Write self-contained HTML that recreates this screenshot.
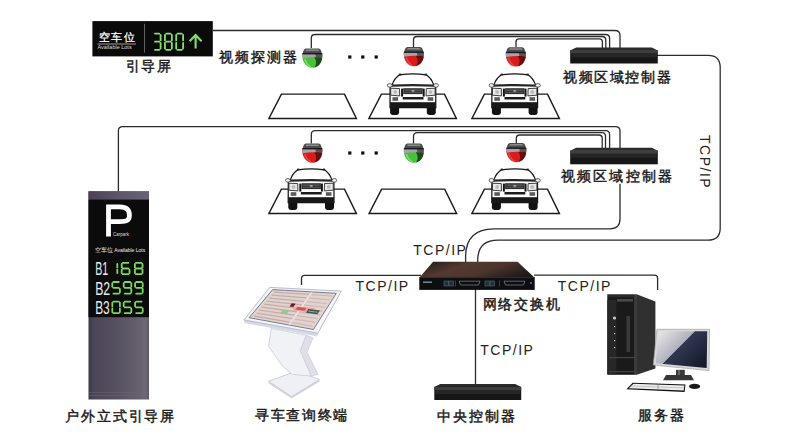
<!DOCTYPE html><html><head><meta charset="utf-8"><style>
html,body{margin:0;padding:0;background:#fff;width:800px;height:440px;overflow:hidden;position:relative;font-family:"Liberation Sans",sans-serif;color:#1a1a1a}
.t{position:absolute;white-space:nowrap;line-height:1;-webkit-text-stroke:0.45px #1a1a1a}
.tcp{position:absolute;white-space:nowrap;line-height:1;font-size:14px;letter-spacing:1.5px;color:#222}
.w{position:absolute;white-space:nowrap;line-height:1;color:#fff}
</style></head><body>
<svg width="800" height="440" viewBox="0 0 800 440" style="position:absolute;left:0;top:0"><defs>
<g id="car">
  <rect x="-22.8" y="26" width="9" height="14.9" rx="2.4" fill="#121212"/>
  <rect x="13.9" y="26" width="9" height="14.9" rx="2.4" fill="#121212"/>
  <path d="M-13.4,0.8 Q0,-1 13.4,0.8 Q18.6,4.5 20.6,10.4 L22.8,12.8 L22.9,33.6 L-22.9,33.6 L-22.8,12.8 L-20.6,10.4 Q-18.6,4.5 -13.4,0.8 Z" fill="#fdfdfd" stroke="#151515" stroke-width="1.25"/>
  <rect x="-14" y="-0.4" width="2.2" height="1.8" fill="#222"/><rect x="11.8" y="-0.4" width="2.2" height="1.8" fill="#222"/>
  <path d="M-20.6,10.6 Q0,9.4 20.6,10.6 L22.4,12.8 Q0,11.6 -22.4,12.8 Z" fill="#262626"/>
  <ellipse cx="-23.2" cy="11.4" rx="2.4" ry="1.8" fill="#f6f6f6" stroke="#3a3a3a" stroke-width="0.8"/>
  <ellipse cx="23.2" cy="11.4" rx="2.4" ry="1.8" fill="#f6f6f6" stroke="#3a3a3a" stroke-width="0.8"/>
  <path d="M-22.2,14.2 L-13.4,14.6 L-13.2,21.9 L-22.2,21.2 Z" fill="#e9e9e9" stroke="#2a2a2a" stroke-width="0.9"/>
  <path d="M22.2,14.2 L13.4,14.6 L13.2,21.9 L22.2,21.2 Z" fill="#e9e9e9" stroke="#2a2a2a" stroke-width="0.9"/>
  <circle cx="-17.6" cy="18" r="2" fill="#bbb"/>
  <circle cx="17.6" cy="18" r="2" fill="#bbb"/>
  <rect x="-11.8" y="14.6" width="2" height="8" fill="#151515"/>
  <rect x="9.8" y="14.6" width="2" height="8" fill="#151515"/>
  <rect x="-9.6" y="14.2" width="19.4" height="5.9" fill="#2e2e2e"/>
  <rect x="-8.4" y="15.6" width="17" height="1" fill="#6a6a6a"/>
  <rect x="-8.4" y="17.8" width="17" height="1" fill="#5a5a5a"/>
  <ellipse cx="0.1" cy="16.9" rx="1.6" ry="0.9" fill="#aaa"/>
  <rect x="-10.2" y="23" width="20.8" height="2.5" fill="#1c1c1c"/>
  <rect x="-22.8" y="28.2" width="45.6" height="5.6" fill="#181818"/>
  <rect x="-20.4" y="23.2" width="5.6" height="3.6" fill="#5a5a5a"/>
  <rect x="14.8" y="23.2" width="5.6" height="3.6" fill="#5a5a5a"/>
</g>
<linearGradient id="pillarG" x1="0" x2="1" y1="0" y2="0">
 <stop offset="0" stop-color="#3e3846"/><stop offset="0.08" stop-color="#4c4554"/><stop offset="0.45" stop-color="#555060"/><stop offset="0.85" stop-color="#67606e"/><stop offset="0.95" stop-color="#6e6874"/><stop offset="1" stop-color="#5c5662"/>
</linearGradient>
<linearGradient id="pillarTop" x1="0" x2="1" y1="0" y2="0">
 <stop offset="0" stop-color="#4a4254"/><stop offset="0.5" stop-color="#5e5568"/><stop offset="1" stop-color="#6a6278"/>
</linearGradient>
<linearGradient id="switchTop" x1="0" x2="1" y1="0.3" y2="0.7">
 <stop offset="0" stop-color="#2a201e"/><stop offset="0.3" stop-color="#54392f"/><stop offset="0.6" stop-color="#4c342c"/><stop offset="1" stop-color="#1c1615"/>
</linearGradient>
<linearGradient id="monG" x1="0.02" x2="0.98" y1="0.12" y2="0.8">
 <stop offset="0" stop-color="#e4e4e8"/><stop offset="0.45" stop-color="#b0b2bc"/><stop offset="0.465" stop-color="#303852"/><stop offset="1" stop-color="#161b2e"/>
</linearGradient>
</defs><path d="M213,30.5 H615 Q620,30.5 620,35.5 V48" fill="none" stroke="#2c2c2c" stroke-width="1.3"/><path d="M311.3,48 V38.2 Q311.3,34.5 315,34.5 H605.6 Q609.6,34.5 609.6,38.5 V48" fill="none" stroke="#2c2c2c" stroke-width="1.3"/><path d="M413.5,47 V40 Q413.5,36.5 417,36.5 H602 Q605.8,36.5 605.8,40.3 V48" fill="none" stroke="#2c2c2c" stroke-width="1.3"/><path d="M516,47 V42 Q516,38.9 519,38.9 H599.4 Q602.4,38.9 602.4,42 V48" fill="none" stroke="#2c2c2c" stroke-width="1.3"/><path d="M118.4,191.5 V130.8 Q118.4,126.6 122.6,126.6 H615.5 Q620,126.6 620,131 V148" fill="none" stroke="#2c2c2c" stroke-width="1.3"/><path d="M620,183.8 V219 Q620,228.8 610,228.8 H494 Q465.6,228.8 465.6,257 V262" fill="none" stroke="#2c2c2c" stroke-width="1.3"/><path d="M311.3,143.5 V134.5 Q311.3,130.6 315.2,130.6 H605.6 Q609.6,130.6 609.6,134.6 V148" fill="none" stroke="#2c2c2c" stroke-width="1.3"/><path d="M413.5,143.5 V136.5 Q413.5,132.6 417.4,132.6 H601.8 Q605.5,132.6 605.5,136.3 V148" fill="none" stroke="#2c2c2c" stroke-width="1.3"/><path d="M516.3,143 V138.5 Q516.3,135 519.8,135 H599 Q602.2,135 602.2,138.2 V148" fill="none" stroke="#2c2c2c" stroke-width="1.3"/><path d="M656,55.3 H708 Q720.2,55.3 720.2,67.5 V228 Q720.2,240.2 708,240.2 H498 Q477.7,240.2 477.7,260.5 V262" fill="none" stroke="#2c2c2c" stroke-width="1.3"/><path d="M301.5,285 V278.5 Q301.5,275.3 304.7,275.3 H421" fill="none" stroke="#2c2c2c" stroke-width="1.3"/><path d="M534,275.2 H654.5 Q657.6,275.2 657.6,278.3 V290" fill="none" stroke="#2c2c2c" stroke-width="1.3"/><path d="M475.5,289 V384" fill="none" stroke="#2c2c2c" stroke-width="1.3"/><path d="M281.40,94.1 L344.50,94.1 L356.40,118.4 L268.90,118.4 Z" fill="none" stroke="#1a1a1a" stroke-width="1.45" stroke-linejoin="miter"/><path d="M381.40,94.1 L444.50,94.1 L456.40,118.4 L368.90,118.4 Z" fill="none" stroke="#1a1a1a" stroke-width="1.45" stroke-linejoin="miter"/><path d="M484.40,94.1 L547.50,94.1 L559.40,118.4 L471.90,118.4 Z" fill="none" stroke="#1a1a1a" stroke-width="1.45" stroke-linejoin="miter"/><path d="M281.40,189.1 L344.50,189.1 L356.40,213.4 L268.90,213.4 Z" fill="none" stroke="#1a1a1a" stroke-width="1.45" stroke-linejoin="miter"/><path d="M381.60,189.1 L444.70,189.1 L456.60,213.4 L369.10,213.4 Z" fill="none" stroke="#1a1a1a" stroke-width="1.45" stroke-linejoin="miter"/><path d="M484.40,189.1 L547.50,189.1 L559.40,213.4 L471.90,213.4 Z" fill="none" stroke="#1a1a1a" stroke-width="1.45" stroke-linejoin="miter"/><use href="#car" transform="translate(412.9,74)"/><use href="#car" transform="translate(514.7,74)"/><use href="#car" transform="translate(311.1,169)"/><use href="#car" transform="translate(514.7,169)"/><g transform="translate(312.3,48.5)">
  <path d="M-6.6,0 L6.6,0 Q8.6,0.6 9.2,3.2 L9.6,5.6 L-9.6,5.6 L-9.2,3.2 Q-8.6,0.6 -6.6,0 Z" fill="#4c4c4c"/>
  <path d="M-6,1 L6,1 L6.8,2.4 L-6.8,2.4 Z" fill="#8c8c8c"/>
  <path d="M-9.9,5 C-10.9,12 -6.8,19.2 0,19.2 C6.8,19.2 10.9,12 9.9,5 Z" fill="#45c23a"/>
  <path d="M-9.9,5 L9.9,5 C10.1,7 10,8.6 9.7,9.6 C4,8.2 -3,8.4 -9.6,9.8 C-9.9,8.2 -10,6.6 -9.9,5 Z" fill="#a8a0aa"/>
  <path d="M3,5 L9.9,5 C10.1,7 10,8.6 9.7,9.6 C7,9 5,8.8 3.5,8.8 Z" fill="#555"/>
  <path d="M-7.5,10.5 C-6.5,14 -4.5,17 -1.5,18.6" stroke="#8fe57f" stroke-width="1.6" fill="none" opacity="0.75"/>
  <path d="M2,8.8 C6,8.6 9.2,9 9.9,9.8 C9.4,14 6.5,18.4 2.2,19 C4.6,15.6 4.2,12 2,8.8 Z" fill="#1c4a18"/>
  <rect x="-9.9" y="4.5" width="19.8" height="1.4" fill="#1a1a1a"/>
</g><g transform="translate(413.8,47)">
  <path d="M-6.6,0 L6.6,0 Q8.6,0.6 9.2,3.2 L9.6,5.6 L-9.6,5.6 L-9.2,3.2 Q-8.6,0.6 -6.6,0 Z" fill="#4c4c4c"/>
  <path d="M-6,1 L6,1 L6.8,2.4 L-6.8,2.4 Z" fill="#8c8c8c"/>
  <path d="M-9.9,5 C-10.9,12 -6.8,19.2 0,19.2 C6.8,19.2 10.9,12 9.9,5 Z" fill="#d81c1c"/>
  <path d="M-9.9,5 L9.9,5 C10.1,7 10,8.6 9.7,9.6 C4,8.2 -3,8.4 -9.6,9.8 C-9.9,8.2 -10,6.6 -9.9,5 Z" fill="#a8a0aa"/>
  <path d="M3,5 L9.9,5 C10.1,7 10,8.6 9.7,9.6 C7,9 5,8.8 3.5,8.8 Z" fill="#555"/>
  <path d="M-7.5,10.5 C-6.5,14 -4.5,17 -1.5,18.6" stroke="#f25050" stroke-width="1.6" fill="none" opacity="0.75"/>
  <path d="M2,8.8 C6,8.6 9.2,9 9.9,9.8 C9.4,14 6.5,18.4 2.2,19 C4.6,15.6 4.2,12 2,8.8 Z" fill="#6a0c0c"/>
  <rect x="-9.9" y="4.5" width="19.8" height="1.4" fill="#1a1a1a"/>
</g><g transform="translate(515.8,47.3)">
  <path d="M-6.6,0 L6.6,0 Q8.6,0.6 9.2,3.2 L9.6,5.6 L-9.6,5.6 L-9.2,3.2 Q-8.6,0.6 -6.6,0 Z" fill="#4c4c4c"/>
  <path d="M-6,1 L6,1 L6.8,2.4 L-6.8,2.4 Z" fill="#8c8c8c"/>
  <path d="M-9.9,5 C-10.9,12 -6.8,19.2 0,19.2 C6.8,19.2 10.9,12 9.9,5 Z" fill="#d81c1c"/>
  <path d="M-9.9,5 L9.9,5 C10.1,7 10,8.6 9.7,9.6 C4,8.2 -3,8.4 -9.6,9.8 C-9.9,8.2 -10,6.6 -9.9,5 Z" fill="#a8a0aa"/>
  <path d="M3,5 L9.9,5 C10.1,7 10,8.6 9.7,9.6 C7,9 5,8.8 3.5,8.8 Z" fill="#555"/>
  <path d="M-7.5,10.5 C-6.5,14 -4.5,17 -1.5,18.6" stroke="#f25050" stroke-width="1.6" fill="none" opacity="0.75"/>
  <path d="M2,8.8 C6,8.6 9.2,9 9.9,9.8 C9.4,14 6.5,18.4 2.2,19 C4.6,15.6 4.2,12 2,8.8 Z" fill="#6a0c0c"/>
  <rect x="-9.9" y="4.5" width="19.8" height="1.4" fill="#1a1a1a"/>
</g><g transform="translate(312.3,143.5)">
  <path d="M-6.6,0 L6.6,0 Q8.6,0.6 9.2,3.2 L9.6,5.6 L-9.6,5.6 L-9.2,3.2 Q-8.6,0.6 -6.6,0 Z" fill="#4c4c4c"/>
  <path d="M-6,1 L6,1 L6.8,2.4 L-6.8,2.4 Z" fill="#8c8c8c"/>
  <path d="M-9.9,5 C-10.9,12 -6.8,19.2 0,19.2 C6.8,19.2 10.9,12 9.9,5 Z" fill="#d81c1c"/>
  <path d="M-9.9,5 L9.9,5 C10.1,7 10,8.6 9.7,9.6 C4,8.2 -3,8.4 -9.6,9.8 C-9.9,8.2 -10,6.6 -9.9,5 Z" fill="#a8a0aa"/>
  <path d="M3,5 L9.9,5 C10.1,7 10,8.6 9.7,9.6 C7,9 5,8.8 3.5,8.8 Z" fill="#555"/>
  <path d="M-7.5,10.5 C-6.5,14 -4.5,17 -1.5,18.6" stroke="#f25050" stroke-width="1.6" fill="none" opacity="0.75"/>
  <path d="M2,8.8 C6,8.6 9.2,9 9.9,9.8 C9.4,14 6.5,18.4 2.2,19 C4.6,15.6 4.2,12 2,8.8 Z" fill="#6a0c0c"/>
  <rect x="-9.9" y="4.5" width="19.8" height="1.4" fill="#1a1a1a"/>
</g><g transform="translate(413.8,143.5)">
  <path d="M-6.6,0 L6.6,0 Q8.6,0.6 9.2,3.2 L9.6,5.6 L-9.6,5.6 L-9.2,3.2 Q-8.6,0.6 -6.6,0 Z" fill="#4c4c4c"/>
  <path d="M-6,1 L6,1 L6.8,2.4 L-6.8,2.4 Z" fill="#8c8c8c"/>
  <path d="M-9.9,5 C-10.9,12 -6.8,19.2 0,19.2 C6.8,19.2 10.9,12 9.9,5 Z" fill="#45c23a"/>
  <path d="M-9.9,5 L9.9,5 C10.1,7 10,8.6 9.7,9.6 C4,8.2 -3,8.4 -9.6,9.8 C-9.9,8.2 -10,6.6 -9.9,5 Z" fill="#a8a0aa"/>
  <path d="M3,5 L9.9,5 C10.1,7 10,8.6 9.7,9.6 C7,9 5,8.8 3.5,8.8 Z" fill="#555"/>
  <path d="M-7.5,10.5 C-6.5,14 -4.5,17 -1.5,18.6" stroke="#8fe57f" stroke-width="1.6" fill="none" opacity="0.75"/>
  <path d="M2,8.8 C6,8.6 9.2,9 9.9,9.8 C9.4,14 6.5,18.4 2.2,19 C4.6,15.6 4.2,12 2,8.8 Z" fill="#1c4a18"/>
  <rect x="-9.9" y="4.5" width="19.8" height="1.4" fill="#1a1a1a"/>
</g><g transform="translate(516.3,143)">
  <path d="M-6.6,0 L6.6,0 Q8.6,0.6 9.2,3.2 L9.6,5.6 L-9.6,5.6 L-9.2,3.2 Q-8.6,0.6 -6.6,0 Z" fill="#4c4c4c"/>
  <path d="M-6,1 L6,1 L6.8,2.4 L-6.8,2.4 Z" fill="#8c8c8c"/>
  <path d="M-9.9,5 C-10.9,12 -6.8,19.2 0,19.2 C6.8,19.2 10.9,12 9.9,5 Z" fill="#d81c1c"/>
  <path d="M-9.9,5 L9.9,5 C10.1,7 10,8.6 9.7,9.6 C4,8.2 -3,8.4 -9.6,9.8 C-9.9,8.2 -10,6.6 -9.9,5 Z" fill="#a8a0aa"/>
  <path d="M3,5 L9.9,5 C10.1,7 10,8.6 9.7,9.6 C7,9 5,8.8 3.5,8.8 Z" fill="#555"/>
  <path d="M-7.5,10.5 C-6.5,14 -4.5,17 -1.5,18.6" stroke="#f25050" stroke-width="1.6" fill="none" opacity="0.75"/>
  <path d="M2,8.8 C6,8.6 9.2,9 9.9,9.8 C9.4,14 6.5,18.4 2.2,19 C4.6,15.6 4.2,12 2,8.8 Z" fill="#6a0c0c"/>
  <rect x="-9.9" y="4.5" width="19.8" height="1.4" fill="#1a1a1a"/>
</g><rect x="348.2" y="55.4" width="3.2" height="3.2" fill="#111"/><rect x="361.2" y="55.4" width="3.2" height="3.2" fill="#111"/><rect x="374.59999999999997" y="55.4" width="3.2" height="3.2" fill="#111"/><rect x="348.2" y="151.4" width="3.2" height="3.2" fill="#111"/><rect x="361.2" y="151.4" width="3.2" height="3.2" fill="#111"/><rect x="374.59999999999997" y="151.4" width="3.2" height="3.2" fill="#111"/><g>
  <path d="M576.2,47.5 L651.8,47.5 L657.8,50.5 L570.2,50.5 Z" fill="#2b2b2b"/>
  <rect x="570.2" y="50.3" width="87.59999999999991" height="13.2" fill="#161616"/>
  <rect x="570.2" y="50.5" width="87.59999999999991" height="3" fill="#3e3e3e"/>
  <rect x="571.2" y="53.5" width="85.59999999999991" height="4" fill="#262626"/>
</g><g>
  <path d="M576.2,147.8 L651.8,147.8 L657.8,150.8 L570.2,150.8 Z" fill="#2b2b2b"/>
  <rect x="570.2" y="150.60000000000002" width="87.59999999999991" height="13.7" fill="#161616"/>
  <rect x="570.2" y="150.8" width="87.59999999999991" height="3" fill="#3e3e3e"/>
  <rect x="571.2" y="153.8" width="85.59999999999991" height="4" fill="#262626"/>
</g><rect x="92.4" y="21.1" width="120.4" height="35.3" fill="#0a0a0a"/><line x1="144.5" y1="23.8" x2="144.5" y2="52.6" stroke="#777" stroke-width="0.8"/><line x1="97.5" y1="44" x2="136" y2="44" stroke="#ddd" stroke-width="0.7"/><path d="M155.00,33.60 L159.30,33.60 M160.60,34.90 L160.60,40.40 M160.60,43.00 L160.60,48.50 M155.00,49.80 L159.30,49.80 M155.00,41.70 L159.30,41.70 M166.25,33.60 L170.55,33.60 M171.85,34.90 L171.85,40.40 M171.85,43.00 L171.85,48.50 M166.25,49.80 L170.55,49.80 M164.95,43.00 L164.95,48.50 M164.95,34.90 L164.95,40.40 M166.25,41.70 L170.55,41.70 M177.50,33.60 L181.80,33.60 M183.10,34.90 L183.10,40.40 M183.10,43.00 L183.10,48.50 M177.50,49.80 L181.80,49.80 M176.20,43.00 L176.20,48.50 M176.20,34.90 L176.20,40.40 " stroke="#86e070" stroke-width="1.8" stroke-linecap="round" fill="none"/><path d="M195.6,35 V48.6 M189.6,41.2 L195.6,35 L201.6,41.2" fill="none" stroke="#7ee06a" stroke-width="2.1"/><rect x="88.5" y="191.3" width="60.5" height="208.2" fill="url(#pillarG)"/><rect x="88.5" y="191.3" width="60.5" height="8.3" fill="url(#pillarTop)"/><rect x="88.5" y="199.6" width="60.5" height="117.6" fill="#0b0b0b"/><rect x="89" y="392" width="59.5" height="0.8" fill="#6e6878" opacity="0.6"/><rect x="89" y="395" width="59.5" height="0.8" fill="#6e6878" opacity="0.6"/><path d="M108.5,236.4 V206.9 H119.8 C127.2,206.9 129.4,210.3 129.4,215.3 C129.4,220.3 127.2,221.6 119.8,221.6 H108.5" fill="none" stroke="#fff" stroke-width="4.8"/><path d="M117.30,263.90 L117.30,267.40 M117.30,269.60 L117.30,273.10 M122.80,262.80 L128.40,262.80 M129.50,269.60 L129.50,273.10 M122.80,274.20 L128.40,274.20 M121.70,269.60 L121.70,273.10 M121.70,263.90 L121.70,267.40 M122.80,268.50 L128.40,268.50 M136.00,262.80 L141.40,262.80 M142.50,263.90 L142.50,267.40 M142.50,269.60 L142.50,273.10 M136.00,274.20 L141.40,274.20 M134.90,269.60 L134.90,273.10 M134.90,263.90 L134.90,267.40 M136.00,268.50 L141.40,268.50 " stroke="#7ad862" stroke-width="1.8" stroke-linecap="round" fill="none"/><path d="M113.40,282.00 L118.80,282.00 M119.90,288.90 L119.90,292.50 M113.40,293.60 L118.80,293.60 M112.30,283.10 L112.30,286.70 M113.40,287.80 L118.80,287.80 M124.80,282.00 L130.20,282.00 M131.30,283.10 L131.30,286.70 M131.30,288.90 L131.30,292.50 M124.80,293.60 L130.20,293.60 M123.70,283.10 L123.70,286.70 M124.80,287.80 L130.20,287.80 M136.20,282.00 L141.60,282.00 M142.70,283.10 L142.70,286.70 M142.70,288.90 L142.70,292.50 M136.20,293.60 L141.60,293.60 M135.10,283.10 L135.10,286.70 M136.20,287.80 L141.60,287.80 " stroke="#7ad862" stroke-width="1.8" stroke-linecap="round" fill="none"/><path d="M113.40,301.60 L118.80,301.60 M119.90,302.70 L119.90,306.30 M119.90,308.50 L119.90,312.10 M113.40,313.20 L118.80,313.20 M112.30,308.50 L112.30,312.10 M112.30,302.70 L112.30,306.30 M124.80,301.60 L130.20,301.60 M131.30,308.50 L131.30,312.10 M124.80,313.20 L130.20,313.20 M123.70,302.70 L123.70,306.30 M124.80,307.40 L130.20,307.40 M136.20,301.60 L141.60,301.60 M142.70,308.50 L142.70,312.10 M136.20,313.20 L141.60,313.20 M135.10,302.70 L135.10,306.30 M136.20,307.40 L141.60,307.40 " stroke="#7ad862" stroke-width="1.8" stroke-linecap="round" fill="none"/><path d="M433.1,261.8 L517.6,261.8 L534.7,277.7 L419.3,277.7 Z" fill="url(#switchTop)"/><rect x="419.3" y="277.3" width="115.4" height="12.6" fill="#0c0e12"/><rect x="419.3" y="277.3" width="115.4" height="0.8" fill="#2c3036"/><g fill="#1e3236" stroke="#4f6a70" stroke-width="0.6"><rect x="444" y="281" width="4.5" height="5"/><rect x="449" y="281" width="4.5" height="5"/><rect x="485" y="281" width="4.5" height="5"/><rect x="490" y="281" width="4.5" height="5"/></g><g fill="none" stroke="#7c8a90" stroke-width="0.7"><path d="M459,281.2 H480 L478.5,285 H460.5 Z"/><path d="M504,281.2 H525 L523.5,285 H505.5 Z"/></g><rect x="423" y="281.5" width="9" height="1.4" fill="#8a8a9a"/><rect x="455" y="280.5" width="1" height="6" fill="#2a4040"/><rect x="499" y="280.5" width="1" height="6" fill="#2a4040"/><circle cx="531" cy="283" r="0.9" fill="#6a8090"/><g>
  <path d="M440.3,384 L515.2,384 L521.2,387 L434.3,387 Z" fill="#2b2b2b"/>
  <rect x="434.3" y="386.8" width="86.90000000000003" height="13.2" fill="#161616"/>
  <rect x="434.3" y="387" width="86.90000000000003" height="3" fill="#3e3e3e"/>
  <rect x="435.3" y="390" width="84.90000000000003" height="4" fill="#262626"/>
</g><path d="M636.6,294.3 L655.4,301.6 L655.4,368.5 L636.6,374.8 Z" fill="#303030"/><rect x="634.6" y="294.3" width="2.4" height="80.5" fill="#3c3c3c"/><rect x="607.3" y="294.3" width="27.5" height="80.5" fill="#1a1a1a"/><rect x="608" y="295" width="26" height="2.2" fill="#2a2a2a"/><rect x="617" y="299" width="16" height="2.6" fill="#4a4a4a"/><rect x="607.3" y="300" width="9" height="74" fill="#272727"/><rect x="626.5" y="316" width="3.5" height="36" fill="#3a3a3a"/><g fill="#ccc"><circle cx="614.5" cy="318" r="1.6"/><rect x="614" y="326" width="1.2" height="1.2"/><rect x="614" y="333" width="1.2" height="1.2"/><rect x="614" y="340" width="1.2" height="1.2"/><rect x="614" y="347" width="1.2" height="1.2"/></g><rect x="609" y="357" width="26" height="1.2" fill="#444"/><rect x="609" y="371" width="26" height="1.2" fill="#444"/><path d="M656.9,329.3 L709.6,329.3 L709,370.6 L653.3,365 Z" fill="#d9d9db" stroke="#a0a0a4" stroke-width="0.7"/><path d="M658.6,331.2 L707.2,331.2 L706.7,368 L655.6,363.2 Z" fill="url(#monG)"/><rect x="676" y="369.8" width="8.8" height="5.6" fill="#3a3a3a"/><rect x="678" y="370" width="2" height="5" fill="#666"/><path d="M666,375 L691,375 L694,380.2 L663,380.2 Z" fill="#363636"/><path d="M632.7,382.8 L685.5,384.6 L684.6,391.9 L626.4,389.2 Z" fill="#111"/><path d="M633.5,383.8 L684.4,385.5 L683.7,390.6 L628.8,388.3 Z" fill="#ececec"/><path d="M658,384.8 L658,390" stroke="#777" stroke-width="0.6"/><path d="M631,386 L684,387.9" stroke="#999" stroke-width="0.5"/><ellipse cx="694.6" cy="386.4" rx="5.5" ry="2.6" fill="#1a1a1a"/><path d="M268.5,381.2 L297,371 L319.5,379.5 L319.5,381.8 L291.6,398.6 L268.5,383.4 Z" fill="#d3d7e0"/><path d="M268.5,381.2 L297,371 L319.5,379.5 L291.6,396.6 Z" fill="#eef0f5" stroke="#c6cad4" stroke-width="0.8"/><path d="M306.1,335.2 L313,337.8 L307,352.3 L318.1,374.4 L311.2,376.1 L300.2,350.6 Z" fill="#dde0e8" stroke="#c6cad4" stroke-width="0.7"/><path d="M271.2,328.4 L306.1,335.2 L300.2,350.6 L311.2,376.1 L292.5,374.4 L282.3,365.9 L268.6,346.3 Z" fill="#f0f2f6" stroke="#c9cdd7" stroke-width="0.8"/><path d="M243.9,319.9 L317.8,333.2 L317.5,336.5 L244.5,323 Z" fill="#d4d9e4"/><polygon points="269.80,287.40 341.40,291.10 317.80,333.20 243.90,319.90" fill="#f3f5f9" stroke="#aeb6c8" stroke-width="0.9"/><polygon points="272.70,289.60 336.30,293.30 313.40,329.50 249.10,317.70" fill="#e2d3ce" stroke="#5d6270" stroke-width="0.8"/><polyline points="273.99,292.07 309.01,294.46" stroke="#c4acaa" stroke-width="1.3" fill="none"/><polyline points="311.55,294.63 331.92,296.02" stroke="#cdb8b5" stroke-width="1.1" fill="none"/><polyline points="271.52,295.06 306.57,297.92" stroke="#c4acaa" stroke-width="1.3" fill="none"/><polyline points="309.12,298.13 329.51,299.79" stroke="#cdb8b5" stroke-width="1.1" fill="none"/><polyline points="269.05,298.05 304.14,301.38" stroke="#c4acaa" stroke-width="1.3" fill="none"/><polyline points="306.69,301.62 327.11,303.56" stroke="#cdb8b5" stroke-width="1.1" fill="none"/><polyline points="266.57,301.04 301.70,304.84" stroke="#c4acaa" stroke-width="1.3" fill="none"/><polyline points="304.26,305.12 324.70,307.32" stroke="#cdb8b5" stroke-width="1.1" fill="none"/><polyline points="264.10,304.04 299.27,308.30" stroke="#c4acaa" stroke-width="1.3" fill="none"/><polyline points="301.83,308.61 322.29,311.09" stroke="#cdb8b5" stroke-width="1.1" fill="none"/><polyline points="261.62,307.03 296.84,311.76" stroke="#c4acaa" stroke-width="1.3" fill="none"/><polyline points="299.40,312.10 319.88,314.86" stroke="#cdb8b5" stroke-width="1.1" fill="none"/><polyline points="259.15,310.02 294.40,315.22" stroke="#c4acaa" stroke-width="1.3" fill="none"/><polyline points="296.97,315.60 317.48,318.62" stroke="#cdb8b5" stroke-width="1.1" fill="none"/><polyline points="256.67,313.02 291.97,318.68" stroke="#c4acaa" stroke-width="1.3" fill="none"/><polyline points="294.54,319.09 315.07,322.39" stroke="#cdb8b5" stroke-width="1.1" fill="none"/><polyline points="254.20,316.01 289.53,322.14" stroke="#c4acaa" stroke-width="1.3" fill="none"/><polyline points="292.10,322.59 312.66,326.16" stroke="#cdb8b5" stroke-width="1.1" fill="none"/><polyline points="312.13,291.89 288.97,325.02" stroke="#f2ecea" stroke-width="1" fill="none"/><polyline points="285.42,290.34 261.96,320.06" stroke="#d8c6c3" stroke-width="0.7" fill="none"/><polygon points="295.95,306.14 315.13,308.34 312.14,312.87 292.94,310.35" fill="#e8a0a0"/><polygon points="297.41,307.01 306.36,308.06 304.51,310.76 295.55,309.62" fill="#d85050"/><polygon points="308.45,309.04 319.96,310.42 317.44,314.34 305.91,312.79" fill="#3c5652"/><polyline points="308.46,311.08 317.42,312.22" stroke="#ddd" stroke-width="0.6" fill="none"/><polygon points="282.87,309.71 289.27,310.57 286.48,314.41 280.07,313.45" fill="#9cc48c"/><polygon points="291.83,303.26 295.67,303.67 293.34,306.88 289.50,306.43" fill="#6a1c1c"/></svg>
<div class="t" style="left:126.4px;top:59.6px;font-size:13.6px;letter-spacing:1.1px">引导屏</div>
<div class="t" style="left:219.3px;top:50.8px;font-size:13.6px;letter-spacing:2.0px">视频探测器</div>
<div class="t" style="left:563.0px;top:71.0px;font-size:13.6px;letter-spacing:1.6px">视频区域控制器</div>
<div class="t" style="left:561.2px;top:170.0px;font-size:13.6px;letter-spacing:2.1px">视频区域控制器</div>
<div class="t" style="left:65.4px;top:409.6px;font-size:13.6px;letter-spacing:1.8px">户外立式引导屏</div>
<div class="t" style="left:255.0px;top:408.7px;font-size:13.6px;letter-spacing:1.7px">寻车查询终端</div>
<div class="t" style="left:482.6px;top:297.6px;font-size:13.6px;letter-spacing:1.76px">网络交换机</div>
<div class="t" style="left:436.8px;top:409.8px;font-size:13.6px;letter-spacing:1.97px">中央控制器</div>
<div class="t" style="left:637.6px;top:408.6px;font-size:13.6px;letter-spacing:2.1px">服务器</div>
<div class="tcp" style="left:413.3px;top:242.5px">TCP/IP</div>
<div class="tcp" style="left:355.5px;top:279px">TCP/IP</div>
<div class="tcp" style="left:557.8px;top:279px">TCP/IP</div>
<div class="tcp" style="left:480.3px;top:343px">TCP/IP</div>
<div class="tcp" style="left:700px;top:135px;transform-origin:0 0;transform:translate(12px,0) rotate(90deg)">TCP/IP</div>
<div class="w" style="left:98.5px;top:32.2px;font-size:11.2px;letter-spacing:1.5px;-webkit-text-stroke:0.25px #fff">空车位</div>
<div class="w" style="left:97.5px;top:44.5px;font-size:5.5px;letter-spacing:0px;color:#ddd">Available Lots</div>
<div class="w" style="left:113px;top:232.5px;font-size:4.5px;color:#ddd">Carpark</div>
<div class="w" style="left:94.5px;top:246.5px;font-size:6px;color:#eee">空车位 <span style="font-size:5px">Available Lots</span></div>
<svg width="800" height="440" style="position:absolute;left:0;top:0"><g fill="#ececec" font-family="Liberation Sans" font-size="17.5"><text x="95.2" y="274.9" textLength="13" lengthAdjust="spacingAndGlyphs">B1</text><text x="95.2" y="294.6" textLength="15" lengthAdjust="spacingAndGlyphs">B2</text><text x="95.2" y="313.6" textLength="14.5" lengthAdjust="spacingAndGlyphs">B3</text></g></svg>
</body></html>
